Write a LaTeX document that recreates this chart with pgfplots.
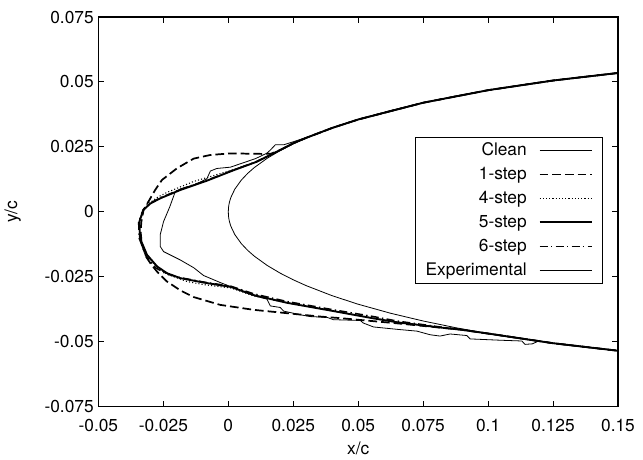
\documentclass[border=0pt]{standalone}
\usepackage{pgfplots}
\pgfplotsset{compat=1.18}
\usepackage{fontspec}
\setmainfont{TeX Gyre Heros}

\begin{document}
\begin{tikzpicture}
\begin{axis}[
    scale only axis,
    width=390pt, height=292.5pt,
    xmin=-0.05, xmax=0.15,
    ymin=-0.075, ymax=0.075,
    scaled ticks=false,
    xtick={-0.05,-0.025,0,0.025,0.05,0.075,0.1,0.125,0.15},
    xticklabels={-0.05,-0.025,0,0.025,0.05,0.075,0.1,0.125,0.15},
    ytick={-0.075,-0.05,-0.025,0,0.025,0.05,0.075},
    yticklabels={-0.075,-0.05,-0.025,0,0.025,0.05,0.075},
    xticklabel style={yshift=-6pt},
    tick align=inside,
    major tick length=4.5pt,
    tick style={black, line width=0.8pt},
    axis line style={line width=1pt},
    font=\fontsize{13}{15}\selectfont,
    xlabel={x/c}, ylabel={y/c},
    xlabel style={at={(axis description cs:0.5,-0.108)}, anchor=center},
    ylabel style={at={(axis description cs:-0.165,0.5)}, anchor=center},
    clip=false,
    legend style={at={(0.969,0.69)}, anchor=north east, draw=black,
        line width=0.6pt, fill=white, font=\fontsize{13}{15}\selectfont,
        row sep=3pt, column sep=8pt, inner xsep=7pt, inner ysep=2pt,
        outer sep=0pt,
        nodes={inner sep=1pt, text height=10pt, text depth=3pt}},
    legend cell align=right,
    legend plot pos=right,
    legend image code/.code={\draw[#1] (0pt,0pt) -- (39pt,0pt);},
]

% clean NACA 0012 nose
\addplot[black, line width=0.6pt] coordinates {
    (0.15,0.05345) (0.1375,0.0521) (0.125,0.05055) (0.1125,0.04881) (0.1,0.04683)
    (0.0875,0.04458) (0.075,0.042) (0.0625,0.03903) (0.05,0.03555) (0.04,0.03228)
    (0.03,0.0284) (0.025,0.02615) (0.02,0.0236) (0.015,0.02064) (0.01,0.01704)
    (0.0075,0.01485) (0.005,0.01221) (0.0025,0.00872) (0.001,0.00556) (0.0005,0.00395)
    (0.00025,0.0028) (0.0001,0.00177) (0,0)
    (0.0001,-0.00177) (0.00025,-0.0028) (0.0005,-0.00395) (0.001,-0.00556)
    (0.0025,-0.00872) (0.005,-0.01221) (0.0075,-0.01485) (0.01,-0.01704)
    (0.015,-0.02064) (0.02,-0.0236) (0.025,-0.02615) (0.03,-0.0284) (0.04,-0.03228)
    (0.05,-0.03555) (0.0625,-0.03903) (0.075,-0.042) (0.0875,-0.04458) (0.1,-0.04683)
    (0.1125,-0.04881) (0.125,-0.05055) (0.1375,-0.0521) (0.15,-0.05345)
};
\addlegendentry{Clean}

% 1-step
\addplot[black, line width=1.3pt, dash pattern=on 6.5pt off 3pt] coordinates {
    (0.15,0.05345) (0.125,0.05055) (0.1,0.04683) (0.075,0.042) (0.05,0.03555)
    (0.04,0.0323) (0.03,0.0285) (0.025,0.0264) (0.02,0.0238) (0.0165,0.0224)
    (0.0136,0.0223) (0.0008,0.0225) (-0.0069,0.0219) (-0.0133,0.0205) (-0.0197,0.0168)
    (-0.0255,0.0123) (-0.0281,0.0085) (-0.0307,0.004) (-0.0326,0.0008) (-0.0335,-0.004)
    (-0.0337,-0.008) (-0.0333,-0.0125) (-0.0315,-0.0175) (-0.0295,-0.0205)
    (-0.0274,-0.023) (-0.0236,-0.0268) (-0.0185,-0.0302) (-0.0133,-0.0328)
    (-0.0031,-0.0358) (0.0097,-0.0377) (0.0226,-0.039) (0.0354,-0.0403)
    (0.0431,-0.0409) (0.0649,-0.0429) (0.077,-0.0441) (0.0892,-0.0453)
    (0.1,-0.04683) (0.125,-0.05055) (0.15,-0.05345)
};
\addlegendentry{1-step}

% 4-step
\addplot[black, line width=0.8pt, dash pattern=on 0.8pt off 1.6pt] coordinates {
    (0.15,0.05345) (0.125,0.05055) (0.1,0.04683) (0.075,0.042) (0.05,0.03555)
    (0.04,0.0323) (0.03,0.0285) (0.025,0.0264) (0.02,0.0238) (0.0097,0.0189)
    (-0.0005,0.0155) (-0.0133,0.0117) (-0.0236,0.0075) (-0.0274,0.0055)
    (-0.0313,0.0027) (-0.0333,-0.0005) (-0.0343,-0.004) (-0.0341,-0.0101)
    (-0.0316,-0.0165) (-0.0278,-0.021) (-0.0236,-0.024) (-0.0159,-0.0268)
    (-0.0095,-0.028) (0.001,-0.0293) (0.01,-0.0324) (0.0226,-0.035) (0.04,-0.0381)
    (0.0649,-0.0424) (0.0892,-0.0453) (0.1,-0.04683) (0.125,-0.05055) (0.15,-0.05345)
};
\addlegendentry{4-step}

% 5-step
\addplot[black, line width=1.4pt] coordinates {
    (0.15,0.05345) (0.125,0.05055) (0.1,0.04683) (0.075,0.042) (0.05,0.03555)
    (0.04,0.0323) (0.03,0.0285) (0.025,0.0264) (0.02,0.0238) (0.011,0.0193)
    (0.002,0.016) (-0.0082,0.012) (-0.0185,0.0084) (-0.0262,0.0052) (-0.03,0.0032)
    (-0.0326,0.0008) (-0.0342,-0.0037) (-0.034,-0.0101) (-0.0313,-0.0165)
    (-0.0274,-0.021) (-0.0236,-0.0236) (-0.0185,-0.0255) (-0.0095,-0.0272)
    (0.001,-0.0289) (0.01,-0.0321) (0.0226,-0.035) (0.04,-0.0381) (0.0559,-0.041)
    (0.0649,-0.0425) (0.0815,-0.0445) (0.0892,-0.0453) (0.1,-0.04683)
    (0.125,-0.05055) (0.15,-0.05345)
};
\addlegendentry{5-step}

% 6-step
\addplot[black, line width=1.1pt, dash pattern=on 6pt off 2.5pt on 1pt off 2.5pt] coordinates {
    (0.15,0.05345) (0.125,0.05055) (0.1,0.04683) (0.075,0.042) (0.05,0.03555)
    (0.04,0.0323) (0.03,0.0285) (0.025,0.0264) (0.02,0.0238) (0.011,0.0194)
    (0.002,0.0161) (-0.0082,0.0122) (-0.0185,0.0086) (-0.0262,0.0054) (-0.03,0.0034)
    (-0.0328,0.0008) (-0.0345,-0.004) (-0.0343,-0.0101) (-0.0318,-0.0168)
    (-0.028,-0.0215) (-0.024,-0.0238) (-0.0185,-0.0253) (-0.0095,-0.027)
    (0.001,-0.0286) (0.01,-0.0316) (0.0226,-0.0345) (0.04,-0.0376) (0.0559,-0.0403)
    (0.0649,-0.042) (0.0815,-0.0443) (0.0892,-0.0452) (0.1,-0.04683)
    (0.125,-0.05055) (0.15,-0.05345)
};
\addlegendentry{6-step}

% experimental ice shape
\addplot[black, line width=0.6pt] coordinates {
    (0.15,0.05345) (0.125,0.05055) (0.1,0.04683) (0.075,0.042) (0.05,0.03555)
    (0.04,0.0323) (0.0315,0.0291) (0.0251,0.027) (0.0213,0.0258) (0.0181,0.0258)
    (0.0162,0.0238) (0.0149,0.0226) (0.0105,0.0205) (0.0008,0.0172) (-0.0044,0.0167)
    (-0.0069,0.0157) (-0.0082,0.0128) (-0.012,0.0108) (-0.0185,0.0088)
    (-0.0204,0.0078) (-0.0225,0.002) (-0.0249,-0.0037) (-0.0262,-0.0088)
    (-0.0262,-0.0133) (-0.0249,-0.0153) (-0.0185,-0.0185) (-0.0133,-0.0215)
    (-0.0095,-0.0245) (-0.0031,-0.0272) (0.002,-0.0292) (0.0097,-0.0322)
    (0.0149,-0.0336) (0.0162,-0.0362) (0.02,-0.0368) (0.0213,-0.0382)
    (0.0277,-0.0396) (0.0315,-0.0403) (0.038,-0.0406) (0.0405,-0.0415)
    (0.0508,-0.0418) (0.052,-0.0428) (0.0559,-0.0443) (0.0649,-0.0452)
    (0.0726,-0.0459) (0.0777,-0.0473) (0.0815,-0.0478) (0.0854,-0.047)
    (0.0918,-0.0476) (0.0931,-0.0489) (0.1046,-0.0494) (0.113,-0.0497)
    (0.1142,-0.051) (0.117,-0.0508) (0.1195,-0.0497) (0.125,-0.05055) (0.15,-0.05345)
};
\addlegendentry{Experimental}

% page margins as in the reference
\path (rel axis cs:-0.1885,-0.1308) rectangle (rel axis cs:1.0481,1.0436);
\end{axis}
\end{tikzpicture}
\end{document}
